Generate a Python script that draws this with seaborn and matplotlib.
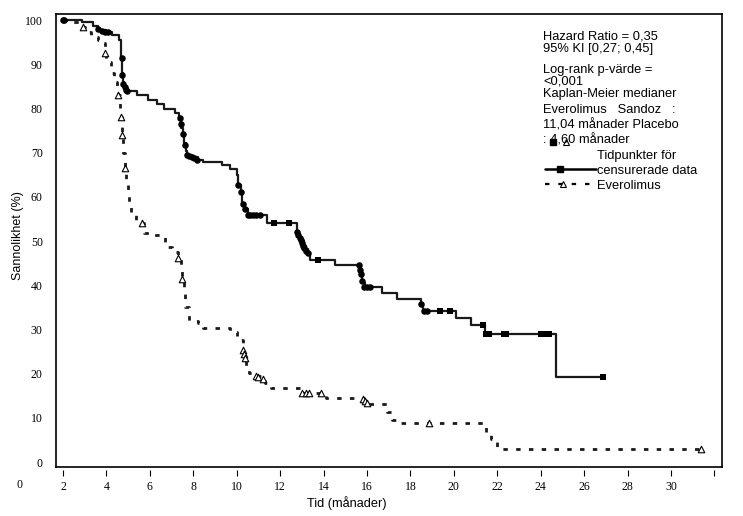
import numpy as np
import pandas as pd
import matplotlib
matplotlib.use("Agg")
import matplotlib.pyplot as plt
from matplotlib.lines import Line2D
import matplotlib.transforms as mtransforms
import seaborn as sns

# ---------------- data ----------------
# Everolimus Sandoz (solid) Kaplan-Meier step curve
evs_time = [2.0, 2.87, 3.38, 3.6, 4.0, 4.25, 4.57, 4.68, 4.72, 4.76, 4.82, 4.95,
            5.4, 5.9, 6.32, 6.64, 7.15, 7.35, 7.45, 7.52, 7.58, 7.65, 7.72, 7.95,
            8.2, 8.44, 9.3, 9.68, 10.0, 10.08, 10.18, 10.25, 10.38, 10.53, 11.38,
            12.76, 12.88, 12.98, 13.08, 13.18, 13.3, 13.38, 14.53, 15.62, 15.7,
            15.78, 15.9, 16.7, 17.38, 18.49, 18.6, 20.08, 20.77, 21.43, 24.69, 26.87]
evs_surv = [100, 99.5, 98.6, 97.8, 97.3, 96.6, 95.5, 91.4, 88.0, 86.0, 84.8, 83.9,
            83.0, 81.9, 81.0, 79.9, 79.0, 77.8, 75.5, 74.0, 72.2, 70.5, 69.5, 69.0,
            68.4, 67.9, 67.2, 66.3, 65.0, 62.7, 61.0, 58.5, 57.2, 55.9, 54.2,
            52.1, 51.0, 50.0, 49.0, 48.2, 47.4, 45.7, 44.7, 43.5, 42.0,
            40.5, 39.6, 38.3, 36.9, 35.7, 34.2, 32.6, 31.0, 28.9, 19.3, 19.3]

# censored observations, Everolimus Sandoz (filled circles)
evs_cens_circ_t = [2.0, 2.06, 3.62, 3.8, 3.95, 4.05, 4.7, 4.74, 4.78, 4.84, 4.9, 4.97,
                   7.38, 7.43, 7.52, 7.6, 7.72, 7.82, 7.92, 8.02, 8.15,
                   10.06, 10.2, 10.27, 10.38, 10.5, 10.62, 10.75, 10.9, 11.05,
                   12.78, 12.84, 12.9, 12.95, 13.0, 13.05, 13.1, 13.2, 13.3,
                   15.62, 15.67, 15.72, 15.77, 15.85, 16.0, 16.12, 18.5, 18.62, 18.75]
evs_cens_circ_s = [100, 100, 98.0, 97.6, 97.4, 97.3, 91.4, 87.5, 85.5, 84.8, 84.3, 84.0,
                   77.8, 76.6, 74.2, 71.8, 69.5, 69.3, 69.0, 68.8, 68.4,
                   62.7, 61.0, 58.5, 57.2, 55.9, 55.9, 55.9, 55.9, 55.9,
                   52.0, 51.4, 50.8, 50.2, 49.6, 49.0, 48.4, 47.8, 47.4,
                   44.7, 43.5, 42.5, 41.0, 39.6, 39.6, 39.6, 35.7, 34.2, 34.2]
# censored observations, Everolimus Sandoz (filled squares)
evs_cens_sq_t = [11.73, 12.41, 13.76, 19.36, 19.82, 21.34, 21.5, 21.6, 22.3, 22.4,
                 24.0, 24.2, 24.4, 26.87]
evs_cens_sq_s = [54.2, 54.2, 45.7, 34.2, 34.2, 31.0, 28.9, 28.9, 28.9, 28.9,
                 28.9, 28.9, 28.9, 19.3]

# Placebo (dashed) Kaplan-Meier step curve
pla_time = [2.0, 2.25, 2.85, 3.0, 3.3, 3.6, 3.85, 3.92, 4.0, 4.2, 4.35, 4.5, 4.55,
            4.62, 4.67, 4.72, 4.78, 4.84, 4.9, 5.0, 5.05, 5.12, 5.35, 5.75, 6.2,
            6.7, 7.0, 7.3, 7.45, 7.5, 7.55, 7.6, 7.8, 8.2, 8.45, 9.7, 10.0, 10.15,
            10.3, 10.35, 10.45, 10.55, 10.9, 11.1, 11.3, 11.6, 12.9, 14.1, 15.85,
            15.95, 16.9, 17.15, 17.4, 21.5, 21.7, 21.97, 31.4]
pla_surv = [100, 99.6, 98.4, 97.3, 96.2, 95.5, 94.8, 92.5, 90.5, 88.0, 86.0, 84.2, 83.0,
            80.0, 78.0, 74.0, 70.0, 66.5, 63.0, 60.4, 58.6, 56.5, 54.0, 51.8, 51.3,
            48.6, 47.5, 46.2, 43.5, 41.4, 38.5, 35.0, 31.9, 31.4, 30.3, 29.5, 28.3, 27.6,
            25.3, 23.5, 21.5, 20.2, 19.5, 18.8, 17.9, 16.7, 15.6, 14.5, 13.9,
            13.1, 11.3, 9.5, 8.9, 6.9, 5.1, 2.9, 2.9]

# censored observations, Placebo (open triangles)
pla_cens_t = [2.92, 3.92, 4.55, 4.67, 4.72, 4.84, 5.64, 7.3, 7.48, 10.3, 10.33, 10.37,
              10.9, 11.0, 11.2, 13.0, 13.2, 13.35, 13.9, 15.8, 15.9, 16.0, 18.85, 31.4]
pla_cens_s = [98.4, 92.5, 83.0, 78.0, 74.0, 66.5, 54.0, 46.2, 41.4, 25.3, 24.5, 23.5,
              19.5, 19.3, 18.8, 15.6, 15.6, 15.6, 15.6, 14.3, 13.8, 13.3, 8.9, 2.9]

x_ticks = [2, 4, 6, 8, 10, 12, 14, 16, 18, 20, 22, 24, 26, 28, 30, 32]
x_tick_labels = ["2", "4", "6", "8", "10", "12", "14", "16", "18", "20", "22",
                 "24", "26", "28", "30", ""]
y_ticks = [0, 10, 20, 30, 40, 50, 60, 70, 80, 90, 100]

legend_lines = ["Hazard Ratio = 0,35", "95% KI [0,27; 0,45]", "Log-rank p-värde =",
                "<0,001", "Kaplan-Meier medianer", "Everolimus   Sandoz   :",
                "11,04 månader Placebo", ": 4,60 månader"]

# ---------------- figure ----------------
sns.set_style("white")
plt.rcParams["text.color"] = "black"
plt.rcParams["axes.labelcolor"] = "black"
plt.rcParams["xtick.color"] = "black"
plt.rcParams["ytick.color"] = "black"

W, H = 743, 516
fig = plt.figure(figsize=(W / 100, H / 100), dpi=100)
ax = fig.add_axes([56 / W, 1 - 467 / H, (722 - 56) / W, (467 - 14) / H])

sans = ["Liberation Sans", "DejaVu Sans"]
serif = ["Liberation Serif", "DejaVu Serif"]

df_e = pd.DataFrame({"t": evs_time, "s": evs_surv})
df_p = pd.DataFrame({"t": pla_time, "s": pla_surv})

sns.lineplot(data=df_e, x="t", y="s", ax=ax, drawstyle="steps-post", color="#1a1a1a",
             linewidth=1.6, estimator=None, sort=False)
sns.lineplot(data=df_p, x="t", y="s", ax=ax, drawstyle="steps-post", color="#1a1a1a",
             linewidth=2.0, linestyle=(0, (1.6, 3.0)), estimator=None, sort=False)

sns.scatterplot(x=evs_cens_circ_t, y=evs_cens_circ_s, ax=ax, marker="o", s=22,
                color="black", edgecolor="black", linewidth=0, zorder=4)
sns.scatterplot(x=evs_cens_sq_t, y=evs_cens_sq_s, ax=ax, marker="s", s=20,
                color="black", edgecolor="black", linewidth=0, zorder=4)
sns.scatterplot(x=pla_cens_t, y=pla_cens_s, ax=ax, marker="^", s=22,
                facecolor="white", edgecolor="black", linewidth=0.8, zorder=4)

ax.set_xlim(1.678, 32.35)
ax.set_ylim(-1.13, 101.4)
ax.set_xlabel("")
ax.set_ylabel("")

for sp in ax.spines.values():
    sp.set_visible(True)
    sp.set_color("black")
    sp.set_linewidth(1.2)

ax.set_yticks(y_ticks)
ax.set_yticklabels([str(v) for v in y_ticks], fontfamily=serif, fontsize=8.5)
ax.tick_params(axis="y", direction="out", length=3.5, width=0.8, pad=6, colors="black")
ax.set_xticks([])

sec = ax.secondary_xaxis(-0.006)
sec.set_xticks(x_ticks)
sec.set_xticklabels(x_tick_labels, fontfamily=serif, fontsize=8.5)
sec.tick_params(axis="x", direction="out", length=4, width=0.8, pad=4, colors="black")
sec.spines["bottom"].set_visible(False)

# "0" label at the origin of the time axis
trans = mtransforms.blended_transform_factory(ax.transData, fig.transFigure)
ax.text(0, 1 - 485 / H, "0", transform=trans, ha="center", va="center",
        fontfamily=serif, fontsize=8.5, clip_on=False)

fig.text(18 / W, 1 - 236 / H, "Sannolikhet (%)", rotation=90, ha="center", va="center",
         fontfamily=sans, fontsize=9)
fig.text(347 / W, 1 - 503 / H, "Tid (månader)", ha="center", va="center",
         fontfamily=sans, fontsize=9.2)

# annotation / legend block
baselines = [39.3, 51.7, 73.3, 84.5, 97.3, 113.3, 128.3, 143.3]
for txt, b in zip(legend_lines, baselines):
    fig.text(543 / W, 1 - b / H, txt, ha="left", va="baseline",
             fontfamily=sans, fontsize=9.3)

fig.text(597 / W, 1 - 159 / H, "Tidpunkter för", ha="left", va="baseline",
         fontfamily=sans, fontsize=9.3)
fig.text(597 / W, 1 - 174.3 / H, "censurerade data", ha="left", va="baseline",
         fontfamily=sans, fontsize=9.3)
fig.text(597 / W, 1 - 189 / H, "Everolimus", ha="left", va="baseline",
         fontfamily=sans, fontsize=9.3)

fig.add_artist(Line2D([545 / W, 596 / W], [1 - 169 / H, 1 - 169 / H], color="black",
                      linewidth=1.8, transform=fig.transFigure))
fig.add_artist(Line2D([560 / W], [1 - 169 / H], marker="s", markersize=4.5,
                      color="black", transform=fig.transFigure))
fig.add_artist(Line2D([545 / W, 596 / W], [1 - 184 / H, 1 - 184 / H], color="black",
                      linewidth=1.6, linestyle=(0, (2, 4)), transform=fig.transFigure))
fig.add_artist(Line2D([563 / W], [1 - 184 / H], marker="^", markersize=5,
                      markerfacecolor="white", markeredgecolor="black",
                      markeredgewidth=0.8, transform=fig.transFigure))
fig.add_artist(Line2D([553 / W], [1 - 142 / H], marker="s", markersize=4.5,
                      color="black", transform=fig.transFigure))
fig.add_artist(Line2D([566 / W], [1 - 142 / H], marker="^", markersize=5,
                      markerfacecolor="white", markeredgecolor="black",
                      markeredgewidth=0.8, transform=fig.transFigure))

fig.savefig("out.png", dpi=100)
